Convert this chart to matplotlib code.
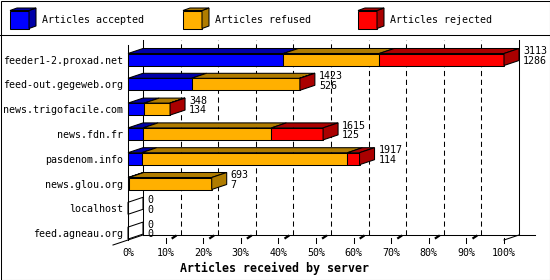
import numpy as np
import matplotlib.pyplot as plt
from matplotlib.patches import Polygon, Rectangle
import matplotlib.transforms as mtransforms

plt.rcParams['font.family'] = ['DejaVu Sans Mono']

# data
servers = ["feeder1-2.proxad.net", "feed-out.gegeweb.org", "news.trigofacile.com",
           "news.fdn.fr", "pasdenom.info", "news.glou.org", "localhost", "feed.agneau.org"]
accepted = [1286, 526, 134, 125, 114, 7, 0, 0]
refused = [794, 895, 213, 1062, 1703, 686, 0, 0]
rejected = [1033, 2, 1, 428, 100, 0, 0, 0]
series_names = ["Articles accepted", "Articles refused", "Articles rejected"]
ticks = list(range(0, 101, 10))

colors = ["#0000ff", "#ffb000", "#ff0000"]
shades = ["#0000a8", "#b07c00", "#aa0000"]

W, H = 550, 280
fig = plt.figure(figsize=(W / 100, H / 100), dpi=100)
ax = fig.add_axes([128 / W, 40 / H, 376 / W, 195 / H])

row_px = 24.8
ax.set_xlim(0, 100)
ax.set_ylim((240 - 59.5) / row_px, (45 - 59.5) / row_px)

ux = 100 / 376.0      # percent per pixel
uy = 1 / row_px       # row units per pixel
DX, DY = 15 * ux, -5 * uy
h = 6 * uy
lw = 0.75
ybot, ytop = ax.get_ylim()

# back wall, grid and floor
for k in ticks[1:-1]:
    ax.plot([k + DX, k + DX], [ybot + DY, ytop + DY], color='k', lw=lw,
            ls=(0, (5, 3.5)), clip_on=False, zorder=1)
ax.plot([DX, DX], [ybot + DY, ytop + DY], color='k', lw=lw, clip_on=False, zorder=1)
ax.plot([100 + DX, 100 + DX], [ybot + DY, ytop + DY], color='k', lw=lw, clip_on=False, zorder=1)
ax.plot([DX, 100 + DX + 16 * ux], [ybot + DY, ybot + DY], color='k', lw=lw, clip_on=False, zorder=1)
ax.plot([-DX, DX], [ybot - DY, ybot + DY], color='k', lw=lw, clip_on=False, zorder=1)
ax.plot([100, 100 + DX], [ybot, ybot + DY], color='k', lw=lw, clip_on=False, zorder=1)
for k in ticks[1:]:
    ax.plot([k, k], [ybot - 2 * uy, ybot + 3 * uy], color='k', lw=lw, clip_on=False, zorder=1)
    if k < 100:
        ax.plot([k + 7 * ux, k + 10 * ux], [ybot - 2 * uy, ybot - 4 * uy], color='k',
                lw=1.6, clip_on=False, zorder=1)

# bars
vals = [accepted, refused, rejected]
totals = [a + b + c for a, b, c in zip(accepted, refused, rejected)]
maxtot = max(totals)
for i in range(len(servers)):
    left = 0
    nz = [j for j in range(3) if vals[j][i] > 0]
    for j in nz:
        w = vals[j][i] / maxtot * 100
        ax.add_patch(Rectangle((left, i - h), w, 2 * h, fc=colors[j], ec='k', lw=lw,
                               clip_on=False, zorder=3))
        ax.add_patch(Polygon([(left, i - h), (left + w, i - h), (left + w + DX, i - h + DY),
                              (left + DX, i - h + DY)], fc=shades[j], ec='k', lw=lw,
                             clip_on=False, zorder=3))
        left += w
    side = [(left, i - h), (left + DX, i - h + DY), (left + DX, i + h + DY), (left, i + h)]
    if nz:
        ax.add_patch(Polygon(side, fc=shades[nz[-1]], ec='k', lw=lw, clip_on=False, zorder=3))
    else:
        ax.add_patch(Polygon(side, fill=False, ec='k', lw=lw, clip_on=False, zorder=3))
    ax.annotate(f"{totals[i]}\n{accepted[i]}", xy=(left, i), xytext=(19, 3.5),
                textcoords='offset pixels', va='center', ha='left', fontsize=7.2,
                linespacing=0.95, zorder=4)

for s in ['top', 'right', 'bottom']:
    ax.spines[s].set_visible(False)
ax.spines['left'].set_linewidth(lw)
ax.patch.set_visible(False)
ax.set_yticks(range(len(servers)))
ax.set_yticklabels(servers, fontsize=7.2)
ax.set_xticks(ticks)
ax.set_xticklabels([f"{t}%" for t in ticks], fontsize=7.2)
ax.tick_params(length=0)
ax.tick_params(axis='y', pad=3.6)
ax.tick_params(axis='x', pad=6)

# pixel coords from top-left corner of the figure
pix = mtransforms.Affine2D().scale(1 / W, -1 / H).translate(0, 1) + fig.transFigure

fig.text(274, 268, "Articles received by server", transform=pix, ha='center', va='center',
         fontsize=8.4, fontweight='bold')

# legend
for j, x0 in enumerate([10, 183, 358]):
    fig.patches.append(Rectangle((x0, 10.5), 19, 18, transform=pix, fc=colors[j], ec='k', lw=lw))
    fig.patches.append(Polygon([(x0 + 19, 10.5), (x0 + 26, 8), (x0 + 26, 26), (x0 + 19, 28.5)],
                               transform=pix, fc=shades[j], ec='k', lw=lw))
    fig.patches.append(Polygon([(x0, 10.5), (x0 + 7, 8), (x0 + 26, 8), (x0 + 19, 10.5)],
                               transform=pix, fc=shades[j], ec='k', lw=lw))
    fig.text(x0 + 32, 20, series_names[j], transform=pix, va='center', ha='left', fontsize=7.2)

fig.lines.append(plt.Line2D([0, W], [35, 35], transform=pix, color='k', lw=lw))
fig.patches.append(Rectangle((0.5, 0.5), W - 1, H - 1, transform=pix, fill=False, ec='k', lw=lw))

fig.savefig("out.png", dpi=100)
